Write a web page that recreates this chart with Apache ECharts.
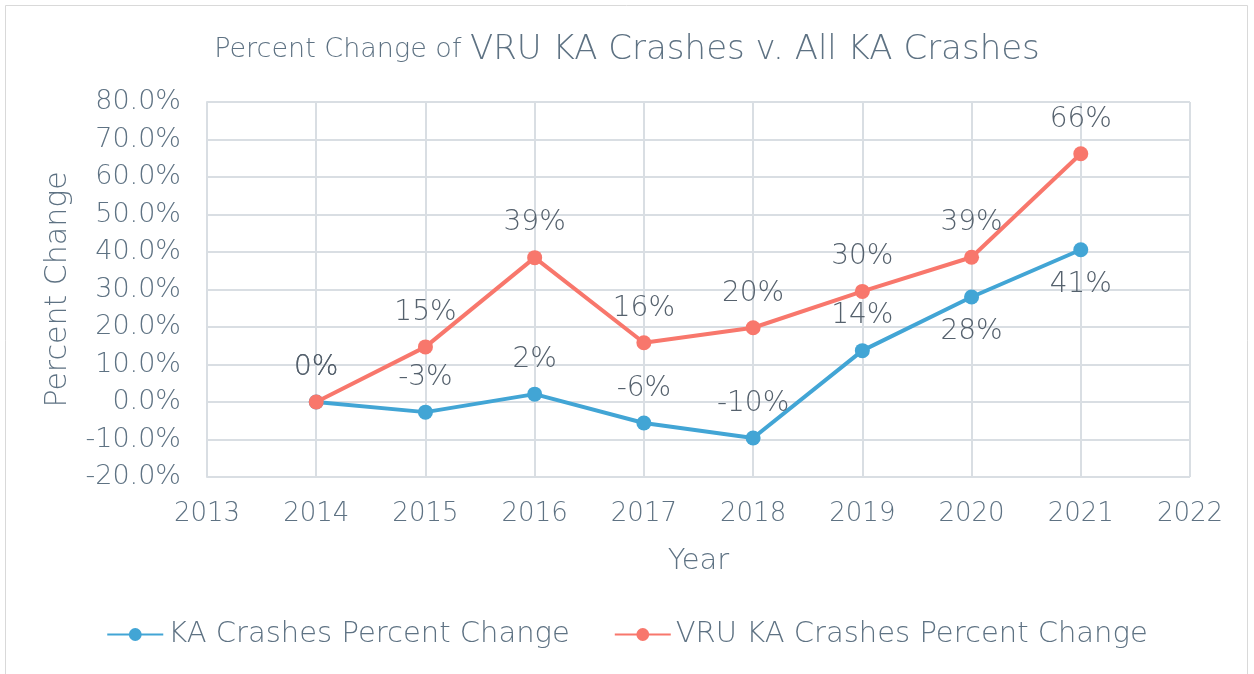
<!DOCTYPE html>
<html>
<head>
<meta charset="utf-8">
<script src="https://cdn.jsdelivr.net/npm/echarts@6/dist/echarts.min.js"></script>
<style>
    html, body { margin: 0; padding: 0; background: #fff; }
    #chart { width: 1254px; height: 674px; }
</style>
</head>
<body>
<div id="chart"></div>
<script>
// data
var years = [2014, 2015, 2016, 2017, 2018, 2019, 2020, 2021];
var kaChange = [0, -2.7, 2.1, -5.6, -9.6, 13.7, 28.0, 40.6];
var vruChange = [0, 14.7, 38.5, 15.8, 19.8, 29.5, 38.6, 66.2];
var kaLabelPos = ['top', 'top', 'top', 'top', 'top', 'top', 'bottom', 'bottom'];

var fontFam = '"DejaVu Sans", sans-serif';
var textColor = '#5E7283';
var gridColor = '#D9DEE3';

function buildData(vals, pos) {
    var out = [];
    for (var i = 0; i < years.length; i++) {
        var item = { value: [years[i], vals[i]] };
        if (pos) item.label = { position: pos[i] };
        out.push(item);
    }
    return out;
}

var chartDom = document.getElementById('chart');
var myChart = echarts.init(chartDom);

var option = {
    backgroundColor: '#fff',
    textStyle: { fontFamily: fontFam },
    graphic: [{
        type: 'rect',
        shape: { x: 5.5, y: 5.5, width: 1242, height: 690 },
        style: { fill: 'none', stroke: '#D9D9D9', lineWidth: 1 },
        silent: true
    }],
    title: {
        text: '{a|Percent Change of }{b|VRU KA Crashes v. All KA Crashes}',
        left: 'center',
        top: 28,
        textStyle: {
            rich: {
                a: { fontSize: 27, color: textColor, fontFamily: fontFam, fontWeight: 200 },
                b: { fontSize: 34, color: textColor, fontFamily: fontFam, fontWeight: 200 }
            }
        }
    },
    grid: { left: 207, right: 64, top: 102, bottom: 197 },
    legend: {
        bottom: 20,
        left: 'center',
        itemWidth: 56,
        itemHeight: 16,
        itemGap: 44,
        textStyle: { fontSize: 29, color: textColor, fontWeight: 200 },
        data: ['KA Crashes Percent Change', 'VRU KA Crashes Percent Change']
    },
    xAxis: {
        type: 'value',
        min: 2013,
        max: 2022,
        interval: 1,
        name: 'Year',
        nameLocation: 'middle',
        nameGap: 70,
        nameTextStyle: { fontSize: 29, color: textColor, fontWeight: 200 },
        axisLine: { show: true, lineStyle: { color: gridColor, width: 2 } },
        axisTick: { show: false },
        axisLabel: {
            fontSize: 26, color: textColor, fontWeight: 200, margin: 24,
            formatter: function (v) { return String(v); }
        },
        splitLine: { show: true, lineStyle: { color: gridColor, width: 2 } }
    },
    yAxis: {
        type: 'value',
        min: -20,
        max: 80,
        interval: 10,
        name: 'Percent Change',
        nameLocation: 'middle',
        nameGap: 134,
        nameTextStyle: { fontSize: 30, color: textColor, fontWeight: 200 },
        axisLine: { show: true, lineStyle: { color: gridColor, width: 2 } },
        axisTick: { show: false },
        axisLabel: {
            fontSize: 27, color: textColor, fontWeight: 200, margin: 26,
            formatter: function (v) { return v.toFixed(1) + '%'; }
        },
        splitLine: { show: true, lineStyle: { color: gridColor, width: 2 } }
    },
    series: [
        {
            name: 'KA Crashes Percent Change',
            type: 'line',
            data: buildData(kaChange, kaLabelPos),
            color: '#42A5D5',
            symbol: 'circle',
            symbolSize: 15,
            lineStyle: { width: 4 },
            label: {
                show: true,
                distance: 13,
                fontSize: 28,
                color: '#55616D',
                fontWeight: 200,
                formatter: function (p) { return Math.round(p.value[1]) + '%'; }
            },
            z: 2
        },
        {
            name: 'VRU KA Crashes Percent Change',
            type: 'line',
            data: buildData(vruChange),
            color: '#F8776C',
            symbol: 'circle',
            symbolSize: 15,
            lineStyle: { width: 4 },
            label: {
                show: true,
                position: 'top',
                distance: 13,
                fontSize: 28,
                color: '#55616D',
                fontWeight: 200,
                formatter: function (p) { return Math.round(p.value[1]) + '%'; }
            },
            z: 3
        }
    ]
};

option && myChart.setOption(option);
</script>
</body>
</html>
